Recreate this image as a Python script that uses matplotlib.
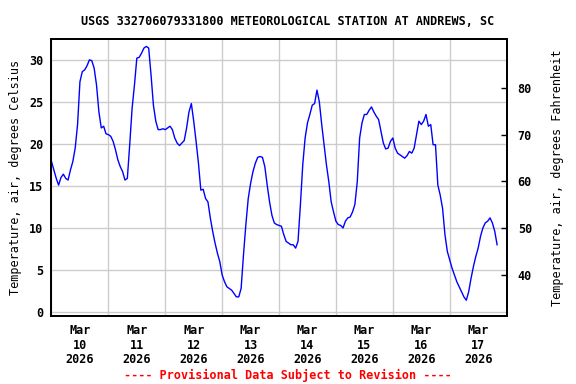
import matplotlib
matplotlib.use("Agg")
import matplotlib.pyplot as plt
import pandas as pd

# hourly air temperature (deg C), starting Mar 10 2026 00:00
temp_mar10 = [17.9, 16.9, 15.9, 15.1, 16.0, 16.4, 15.9, 15.7, 16.9, 17.9, 19.5, 22.3,
              27.4, 28.6, 28.8, 29.3, 30.0, 29.9, 29.0, 27.0, 23.8, 21.9, 22.1, 21.2]
temp_mar11 = [21.1, 20.9, 20.3, 19.3, 18.1, 17.3, 16.7, 15.7, 15.9, 19.9, 24.2, 27.0,
              30.2, 30.3, 30.8, 31.4, 31.6, 31.4, 28.2, 24.6, 22.7, 21.7, 21.7, 21.8]
temp_mar12 = [21.7, 21.9, 22.1, 21.7, 20.7, 20.1, 19.8, 20.1, 20.4, 21.9, 23.8, 24.8,
              22.7, 20.3, 17.7, 14.5, 14.6, 13.5, 13.1, 11.2, 9.6, 8.2, 7.0, 6.0]
temp_mar13 = [4.4, 3.6, 3.0, 2.8, 2.6, 2.2, 1.8, 1.8, 2.8, 6.8, 10.4, 13.5,
              15.3, 16.7, 17.7, 18.4, 18.5, 18.4, 17.3, 15.1, 13.1, 11.5, 10.6, 10.4]
temp_mar14 = [10.3, 10.2, 9.2, 8.4, 8.2, 8.0, 8.0, 7.6, 8.4, 12.7, 17.5, 20.7,
              22.5, 23.5, 24.6, 24.8, 26.4, 25.0, 22.3, 19.9, 17.5, 15.5, 13.1, 11.9]
temp_mar15 = [10.8, 10.4, 10.3, 10.0, 10.8, 11.2, 11.3, 11.9, 12.8, 15.5, 20.7, 22.5,
              23.5, 23.5, 24.0, 24.4, 23.8, 23.3, 22.9, 21.5, 20.1, 19.4, 19.5, 20.3]
temp_mar16 = [20.7, 19.5, 18.9, 18.7, 18.5, 18.3, 18.6, 19.1, 18.9, 19.5, 21.1, 22.7,
              22.3, 22.7, 23.5, 22.1, 22.3, 19.9, 19.9, 15.1, 13.9, 12.3, 9.2, 7.2]
temp_mar17 = [6.2, 5.2, 4.4, 3.6, 3.0, 2.4, 1.8, 1.4, 2.4, 4.0, 5.4, 6.6,
              7.6, 9.0, 10.0, 10.6, 10.8, 11.2, 10.6, 9.6, 8.0]

temp_c = (temp_mar10 + temp_mar11 + temp_mar12 + temp_mar13 +
          temp_mar14 + temp_mar15 + temp_mar16 + temp_mar17)
times = pd.date_range("2026-03-10 00:00", periods=len(temp_c), freq="h")

c_ticks = [0, 5, 10, 15, 20, 25, 30]
f_ticks = [40, 50, 60, 70, 80]
day_labels = ["Mar\n%d\n2026" % d for d in range(10, 18)]

plt.rcParams['font.family'] = "DejaVu Sans Mono"
plt.rcParams['font.weight'] = 'bold'

fig = plt.figure(figsize=(5.76, 3.84), dpi=100)
ax = fig.add_axes([0.0894, 0.177, 0.7901, 0.721])

ax.plot(times, temp_c, color="#0000ff", linewidth=1.0, zorder=3)

c_lo, c_hi = -0.48, 32.46
ax.set_ylim(c_lo, c_hi)
ax.set_xlim(pd.Timestamp("2026-03-10"), pd.Timestamp("2026-03-18"))
ax.set_yticks(c_ticks)
ax.tick_params(axis='y', length=0, labelsize=8.5, pad=6)

# gridlines at midnight, labels at noon
midnights = pd.date_range("2026-03-10", "2026-03-18", freq="D")
noons = pd.date_range("2026-03-10 12:00", periods=8, freq="D")
ax.set_xticks(midnights, minor=True)
ax.set_xticks(noons)
ax.set_xticklabels(day_labels, fontsize=8.5, linespacing=1.15)
ax.tick_params(axis='x', which='both', length=0, pad=6)
ax.grid(True, which='minor', axis='x', color="#cccccc", linewidth=1.0)
ax.grid(True, which='major', axis='y', color="#cccccc", linewidth=1.0)
ax.grid(False, which='major', axis='x')
for s in ax.spines.values():
    s.set_linewidth(1.3)

ax.set_ylabel("Temperature, air, degrees Celsius", fontsize=8.5, labelpad=5)

ax2 = ax.twinx()
ax2.set_ylim(c_lo * 1.8 + 32, c_hi * 1.8 + 32)
ax2.set_yticks(f_ticks)
ax2.tick_params(axis='y', direction='in', length=4, width=1.0, labelsize=8.5, pad=8)
ax2.set_ylabel("Temperature, air, degrees Fahrenheit", fontsize=8.5, labelpad=14)
for s in ax2.spines.values():
    s.set_linewidth(1.3)

fig.text(0.5, 0.943, "USGS 332706079331800 METEOROLOGICAL STATION AT ANDREWS, SC",
         ha='center', va='center', fontsize=8.5, fontweight='bold')
fig.text(0.5, 0.023, "---- Provisional Data Subject to Revision ----",
         ha='center', va='center', fontsize=8.5, fontweight='bold', color="#ff0000")

fig.savefig("out.png", dpi=100)
